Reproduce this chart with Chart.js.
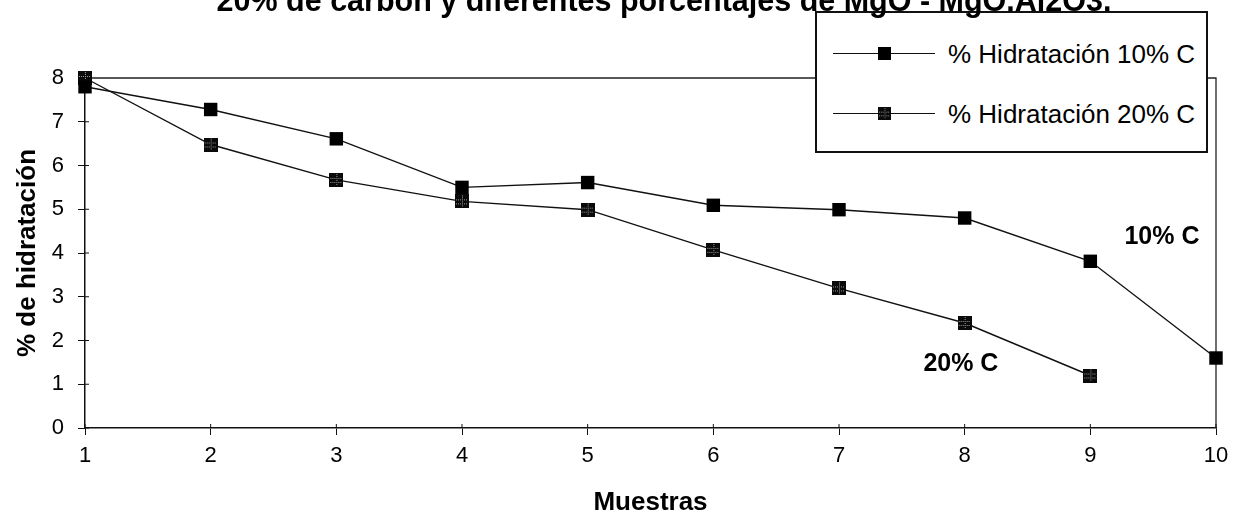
<!DOCTYPE html>
<html><head><meta charset="utf-8">
<script src="https://cdn.jsdelivr.net/npm/chart.js@4.4.0/dist/chart.umd.min.js"></script>
<style>
html,body{margin:0;padding:0;background:#fff;overflow:hidden;width:1242px;height:519px;position:relative;}
#wrap{position:absolute;left:0;top:0;width:1242px;height:519px;}
#title{position:absolute;left:664px;top:-15px;transform:translateX(-50%);white-space:nowrap;font-family:Arial,"Liberation Sans",sans-serif;font-weight:bold;font-size:30.5px;line-height:30px;color:#000;z-index:3;}
#legend{position:absolute;left:815px;top:11px;width:393px;height:142px;border:2px solid #111;background:#fff;box-sizing:border-box;font-family:Arial,"Liberation Sans",sans-serif;font-size:26px;color:#000;z-index:2;}
.lg-item{position:absolute;left:0;width:100%;height:30px;}
.lg-line{position:absolute;left:16px;width:102px;top:14px;height:0;border-top:1.5px solid #111;}
.lg-mark{position:absolute;left:61px;top:8px;width:13px;height:13px;}
.lg-text{position:absolute;left:131px;top:0;line-height:30px;white-space:nowrap;}
</style>
</head><body>
<div id="title"></div>
<div id="wrap"><canvas id="c" width="1242" height="519"></canvas></div>
<div id="legend"></div>
<script>
// ---- data ----
const samples = ['1','2','3','4','5','6','7','8','9','10'];
const hidr10C = [7.8, 7.28, 6.61, 5.50, 5.61, 5.09, 4.99, 4.80, 3.81, 1.60];
const hidr20C = [8.0, 6.48, 5.67, 5.18, 4.99, 4.07, 3.19, 2.40, 1.20, null];
const seriesLabels = ['% Hidratación 10% C', '% Hidratación 20% C'];
const yTickValues = [0,1,2,3,4,5,6,7,8];
const titleText = '20% de carbón y diferentes porcentajes de MgO - MgO.Al2O3.';
const xTitle = 'Muestras';
const yTitle = '% de hidratación';
const noteTexts = ['10% C', '20% C'];

const FONT = 'Arial, "Liberation Sans", sans-serif';
document.getElementById('title').textContent = titleText;

// patterned square marker for the 20% C series
function makeHatchedMarker(size){
  const cv = document.createElement('canvas');
  cv.width = size; cv.height = size;
  const g = cv.getContext('2d');
  g.fillStyle = '#0a0a0a';
  g.fillRect(0,0,size,size);
  g.fillStyle = '#9a9a9a';
  for (let x = 1; x < size-1; x += 2) {
    g.fillRect(x, Math.round(size*0.33), 1, 1);
    g.fillRect(x, Math.round(size*0.66), 1, 1);
  }
  for (let y = 1; y < size-1; y += 2) {
    g.fillRect(Math.round(size*0.5), y, 1, 1);
  }
  return cv;
}
const hatched = makeHatchedMarker(14);

const framePlugin = {
  id: 'frame',
  beforeDatasetsDraw(chart){
    const {ctx, chartArea:a} = chart;
    ctx.save();
    ctx.strokeStyle = '#222';
    ctx.lineWidth = 1.3;
    ctx.beginPath();
    ctx.moveTo(a.left, a.top);
    ctx.lineTo(a.right, a.top);
    ctx.lineTo(a.right, a.bottom);
    ctx.stroke();
    // inner half of the crossing tick marks
    ctx.lineWidth = 1;
    ctx.strokeStyle = '#111';
    const xs = chart.scales.x, ys = chart.scales.y;
    xs.ticks.forEach((t,i)=>{ const px = xs.getPixelForTick(i); ctx.beginPath(); ctx.moveTo(px, a.bottom); ctx.lineTo(px, a.bottom-4); ctx.stroke(); });
    ys.ticks.forEach((t,i)=>{ const py = ys.getPixelForTick(i); ctx.beginPath(); ctx.moveTo(a.left, py); ctx.lineTo(a.left+4, py); ctx.stroke(); });
    ctx.restore();
  }
};

const notesPlugin = {
  id: 'notes',
  afterDatasetsDraw(chart, args, opts){
    const {ctx} = chart;
    ctx.save();
    ctx.font = 'bold 25px ' + FONT;
    ctx.fillStyle = '#000';
    ctx.textAlign = 'center';
    ctx.textBaseline = 'middle';
    opts.items.forEach(n=>{
      ctx.fillText(n.text, chart.scales.x.getPixelForValue(n.x), chart.scales.y.getPixelForValue(n.y));
    });
    ctx.restore();
  }
};

const chart = new Chart(document.getElementById('c'), {
  type: 'line',
  data: {
    labels: samples,
    datasets: [
      { label: seriesLabels[0], data: hidr10C, borderColor: '#111', backgroundColor: '#000', borderWidth: 1.4,
        pointStyle: 'rect', pointRadius: 9.5, pointHoverRadius: 9.5, pointBackgroundColor: '#000', pointBorderColor: '#000', pointBorderWidth: 0, clip: false, tension: 0 },
      { label: seriesLabels[1], data: hidr20C, borderColor: '#111', backgroundColor: '#000', borderWidth: 1.4,
        pointStyle: hatched, pointRadius: 7, clip: false, tension: 0, spanGaps: false }
    ]
  },
  options: {
    responsive: false,
    animation: false,
    devicePixelRatio: 1,
    layout: { padding: { left: 0, right: 26, top: 78, bottom: 0 } },
    plugins: {
      legend: { display: false },
      tooltip: { enabled: false },
      notes: { items: [ { text: noteTexts[0], x: 8.57, y: 4.37 }, { text: noteTexts[1], x: 6.97, y: 1.46 } ] }
    },
    scales: {
      x: {
        type: 'category', offset: false,
        afterFit(scale){ scale.height = 91; },
        grid: { display: true, drawOnChartArea: false, drawTicks: true, tickLength: 7, color: '#111', lineWidth: 1 },
        border: { display: true, color: '#111', width: 1.5 },
        ticks: { color: '#000', font: { family: FONT, size: 22 }, padding: 8, maxRotation: 0, autoSkip: false },
        title: { display: true, text: xTitle, color: '#000', font: { family: FONT, size: 26, weight: 'bold' }, padding: { top: 0, bottom: 1 } }
      },
      y: {
        min: 0, max: 8,
        afterFit(scale){ scale.width = 85; },
        afterBuildTicks(scale){ scale.ticks = yTickValues.map(v=>({value:v})); },
        grid: { display: true, drawOnChartArea: false, drawTicks: true, tickLength: 7, color: '#111', lineWidth: 1 },
        border: { display: true, color: '#111', width: 1.5 },
        ticks: { color: '#000', font: { family: FONT, size: 22 }, padding: 14 },
        title: { display: true, text: yTitle, color: '#000', font: { family: FONT, size: 26, weight: 'bold' }, padding: { top: 12, bottom: 0 } }
      }
    }
  },
  plugins: [framePlugin, notesPlugin]
});

// HTML legend built from the chart datasets
const lg = document.getElementById('legend');
const rowTops = [26, 86];
chart.data.datasets.forEach((ds, i)=>{
  const it = document.createElement('div');
  it.className = 'lg-item';
  it.style.top = rowTops[i] + 'px';
  const line = document.createElement('div'); line.className = 'lg-line';
  let mark;
  if (ds.pointStyle === 'rect') { mark = document.createElement('div'); mark.style.background = '#000'; }
  else { mark = document.createElement('img'); mark.src = ds.pointStyle.toDataURL(); }
  mark.className = 'lg-mark';
  const tx = document.createElement('div'); tx.className = 'lg-text'; tx.textContent = ds.label;
  it.appendChild(line); it.appendChild(mark); it.appendChild(tx);
  lg.appendChild(it);
});
</script>
</body></html>
